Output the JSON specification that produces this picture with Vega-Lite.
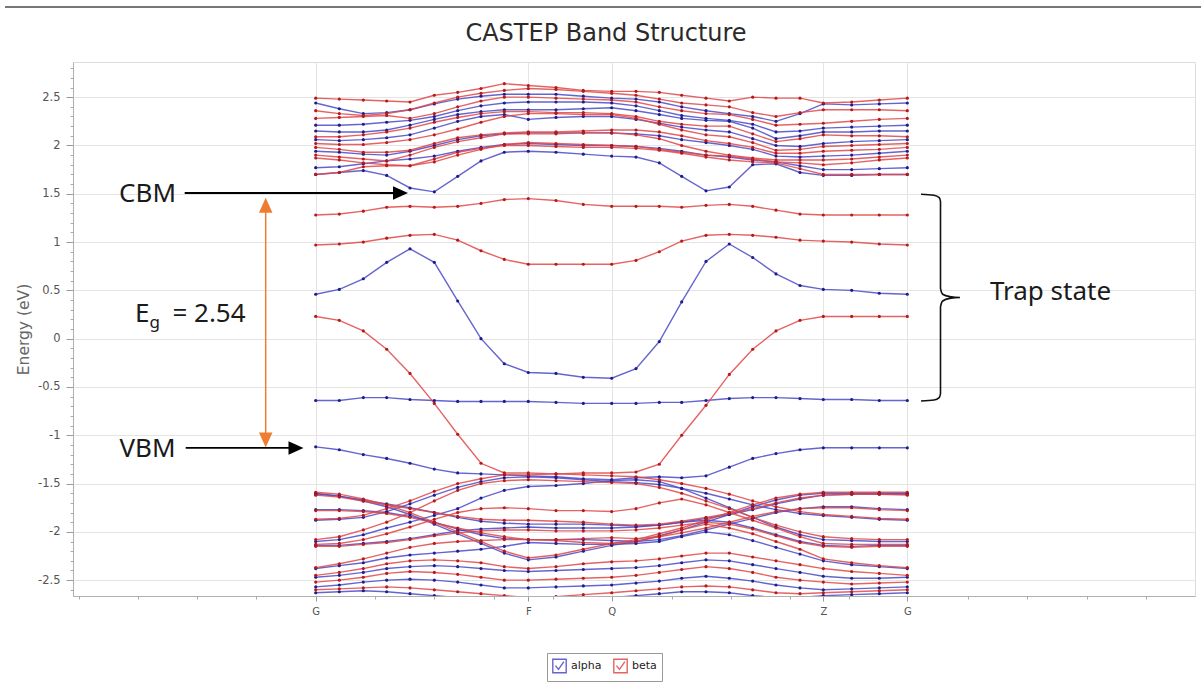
{
  "$schema": "https://vega.github.io/schema/vega-lite/v6.json",
  "width": 1122,
  "height": 534,
  "autosize": {"type": "none"},
  "padding": {"left": 73, "top": 62, "right": 6, "bottom": 88},
  "background": "white",
  "title": {"text": "CASTEP Band Structure", "font": "DejaVu Sans", "fontSize": 24, "fontWeight": "normal", "color": "#2a2a2a", "anchor": "middle", "offset": -40, "dx": -28},
  "config": {"view": {"stroke": "#dcdcdc"}},
  "datasets": {
    "kpts": [
      {"k": 1, "x": 0}, {"k": 2, "x": 23.6}, {"k": 3, "x": 47.6}, {"k": 4, "x": 71}, {"k": 5, "x": 94.3},
      {"k": 6, "x": 118.6}, {"k": 7, "x": 142}, {"k": 8, "x": 165.3}, {"k": 9, "x": 188.6}, {"k": 10, "x": 212.6},
      {"k": 11, "x": 240.3}, {"k": 12, "x": 267.6}, {"k": 13, "x": 296}, {"k": 14, "x": 320.3}, {"k": 15, "x": 343.6},
      {"k": 16, "x": 366}, {"k": 17, "x": 390.3}, {"k": 18, "x": 413.6}, {"k": 19, "x": 437}, {"k": 20, "x": 460.3},
      {"k": 21, "x": 484.3}, {"k": 22, "x": 507.6}, {"k": 23, "x": 536}, {"k": 24, "x": 563.6}, {"k": 25, "x": 591.6}
    ],
    "bands": [
      {"spin": "alpha", "band": "U2", "e": [2.44,2.38,2.33,2.34,2.37,2.43,2.48,2.51,2.53,2.53,2.53,2.51,2.49,2.48,2.45,2.40,2.36,2.33,2.30,2.25,2.33,2.43,2.42,2.43,2.44]},
      {"spin": "alpha", "band": "U5", "e": [2.21,2.21,2.22,2.24,2.26,2.30,2.36,2.41,2.44,2.45,2.45,2.45,2.44,2.41,2.36,2.31,2.28,2.26,2.22,2.14,2.15,2.18,2.19,2.20,2.21]},
      {"spin": "alpha", "band": "U6", "e": [2.15,2.14,2.14,2.16,2.21,2.27,2.32,2.35,2.37,2.37,2.37,2.38,2.39,2.36,2.32,2.28,2.26,2.25,2.18,2.07,2.10,2.14,2.14,2.15,2.15]},
      {"spin": "alpha", "band": "U8", "e": [2.06,2.05,2.06,2.08,2.11,2.18,2.25,2.30,2.32,2.27,2.29,2.30,2.30,2.27,2.23,2.19,2.16,2.14,2.07,2.00,1.99,2.02,2.04,2.05,2.06]},
      {"spin": "alpha", "band": "U11", "e": [1.94,1.93,1.91,1.90,1.94,2.00,2.06,2.10,2.12,2.13,2.13,2.13,2.13,2.12,2.10,2.06,2.03,2.00,1.96,1.89,1.88,1.89,1.90,1.92,1.94]},
      {"spin": "alpha", "band": "U14", "e": [1.77,1.78,1.81,1.84,1.86,1.89,1.94,1.98,2.01,2.02,2.01,2.00,2.00,1.99,1.97,1.94,1.90,1.88,1.85,1.83,1.79,1.75,1.75,1.76,1.77]},
      {"spin": "alpha", "band": "CBM", "e": [1.70,1.72,1.74,1.69,1.56,1.52,1.68,1.84,1.93,1.94,1.93,1.91,1.89,1.88,1.82,1.68,1.53,1.57,1.80,1.81,1.72,1.69,1.69,1.70,1.70]},
      {"spin": "alpha", "band": "T1", "e": [0.46,0.51,0.62,0.79,0.93,0.79,0.39,0.00,-0.26,-0.35,-0.36,-0.40,-0.41,-0.31,-0.03,0.38,0.80,0.98,0.84,0.67,0.55,0.51,0.50,0.47,0.46]},
      {"spin": "alpha", "band": "T2", "e": [-0.64,-0.64,-0.61,-0.61,-0.63,-0.64,-0.65,-0.65,-0.65,-0.65,-0.66,-0.67,-0.67,-0.67,-0.66,-0.66,-0.64,-0.62,-0.61,-0.61,-0.62,-0.63,-0.63,-0.64,-0.64]},
      {"spin": "alpha", "band": "VBM", "e": [-1.12,-1.15,-1.20,-1.24,-1.29,-1.35,-1.39,-1.40,-1.41,-1.42,-1.43,-1.45,-1.46,-1.44,-1.43,-1.44,-1.42,-1.33,-1.24,-1.19,-1.15,-1.13,-1.13,-1.13,-1.13]},
      {"spin": "alpha", "band": "Lb1", "e": [-1.60,-1.63,-1.68,-1.74,-1.82,-1.92,-2.02,-2.12,-2.22,-2.29,-2.26,-2.20,-2.14,-2.10,-2.04,-1.98,-1.90,-1.82,-1.74,-1.67,-1.62,-1.60,-1.60,-1.60,-1.60]},
      {"spin": "alpha", "band": "Lb10", "e": [-1.61,-1.63,-1.67,-1.71,-1.75,-1.80,-1.85,-1.89,-1.91,-1.92,-1.92,-1.92,-1.93,-1.94,-1.93,-1.90,-1.86,-1.82,-1.77,-1.71,-1.66,-1.62,-1.61,-1.61,-1.61]},
      {"spin": "alpha", "band": "Lb2", "e": [-1.77,-1.77,-1.78,-1.80,-1.84,-1.90,-1.97,-2.03,-2.07,-2.08,-2.08,-2.08,-2.09,-2.10,-2.08,-2.04,-1.98,-1.92,-1.86,-1.80,-1.76,-1.74,-1.74,-1.76,-1.77]},
      {"spin": "alpha", "band": "Lb3", "e": [-1.88,-1.87,-1.85,-1.79,-1.71,-1.62,-1.54,-1.48,-1.44,-1.43,-1.44,-1.46,-1.48,-1.49,-1.51,-1.55,-1.60,-1.66,-1.72,-1.77,-1.81,-1.83,-1.85,-1.87,-1.88]},
      {"spin": "alpha", "band": "Lb4", "e": [-2.10,-2.08,-2.03,-1.96,-1.90,-1.83,-1.76,-1.65,-1.57,-1.53,-1.52,-1.50,-1.47,-1.46,-1.48,-1.55,-1.65,-1.75,-1.85,-1.95,-2.03,-2.08,-2.09,-2.10,-2.10]},
      {"spin": "alpha", "band": "Lb5", "e": [-2.14,-2.14,-2.12,-2.10,-2.07,-2.03,-1.99,-1.97,-1.96,-1.95,-1.96,-1.96,-1.96,-1.95,-1.93,-1.90,-1.88,-1.90,-1.96,-2.03,-2.10,-2.14,-2.15,-2.14,-2.14]},
      {"spin": "alpha", "band": "Lb6", "e": [-2.38,-2.35,-2.32,-2.27,-2.24,-2.22,-2.20,-2.18,-2.15,-2.11,-2.12,-2.13,-2.13,-2.12,-2.10,-2.05,-2.00,-2.03,-2.09,-2.16,-2.23,-2.30,-2.34,-2.36,-2.38]},
      {"spin": "alpha", "band": "Lb7", "e": [-2.47,-2.45,-2.42,-2.38,-2.36,-2.35,-2.36,-2.38,-2.40,-2.41,-2.40,-2.39,-2.38,-2.37,-2.35,-2.32,-2.29,-2.30,-2.34,-2.38,-2.42,-2.46,-2.48,-2.48,-2.47]},
      {"spin": "alpha", "band": "Lb8", "e": [-2.57,-2.55,-2.52,-2.50,-2.49,-2.50,-2.52,-2.55,-2.58,-2.58,-2.57,-2.56,-2.55,-2.53,-2.51,-2.48,-2.46,-2.48,-2.51,-2.55,-2.58,-2.60,-2.59,-2.58,-2.57]},
      {"spin": "alpha", "band": "Lb9", "e": [-2.63,-2.62,-2.61,-2.62,-2.64,-2.66,-2.68,-2.70,-2.72,-2.72,-2.71,-2.70,-2.68,-2.66,-2.64,-2.62,-2.62,-2.63,-2.66,-2.68,-2.68,-2.66,-2.65,-2.64,-2.63]},
      {"spin": "beta", "band": "U1", "e": [2.49,2.48,2.47,2.46,2.45,2.52,2.55,2.59,2.64,2.62,2.60,2.57,2.56,2.56,2.55,2.52,2.49,2.46,2.50,2.49,2.49,2.44,2.45,2.47,2.49]},
      {"spin": "beta", "band": "U3", "e": [2.36,2.33,2.31,2.33,2.37,2.44,2.50,2.54,2.57,2.59,2.58,2.56,2.54,2.52,2.48,2.44,2.42,2.40,2.34,2.30,2.34,2.37,2.37,2.37,2.36]},
      {"spin": "beta", "band": "U4", "e": [2.28,2.29,2.30,2.31,2.28,2.33,2.40,2.46,2.50,2.50,2.49,2.48,2.47,2.45,2.40,2.36,2.33,2.32,2.27,2.21,2.22,2.23,2.25,2.27,2.28]},
      {"spin": "beta", "band": "U7", "e": [2.09,2.09,2.11,2.14,2.18,2.24,2.29,2.33,2.35,2.35,2.34,2.34,2.33,2.30,2.25,2.22,2.20,2.20,2.12,2.04,2.07,2.11,2.10,2.10,2.09]},
      {"spin": "beta", "band": "U9", "e": [2.02,2.01,2.01,2.03,2.06,2.11,2.17,2.24,2.30,2.33,2.33,2.32,2.32,2.28,2.22,2.16,2.11,2.09,2.03,1.95,1.96,1.99,2.00,2.01,2.02]},
      {"spin": "beta", "band": "U10", "e": [1.98,1.96,1.93,1.93,1.95,2.02,2.08,2.11,2.13,2.14,2.14,2.15,2.16,2.16,2.14,2.10,2.05,2.02,1.98,1.92,1.92,1.94,1.95,1.96,1.98]},
      {"spin": "beta", "band": "U12", "e": [1.90,1.88,1.86,1.84,1.90,1.98,2.04,2.08,2.12,2.12,2.12,2.13,2.13,2.11,2.07,2.00,1.94,1.90,1.87,1.85,1.85,1.85,1.86,1.88,1.90]},
      {"spin": "beta", "band": "U13", "e": [1.87,1.85,1.82,1.80,1.79,1.83,1.90,1.96,2.01,2.03,2.02,2.01,2.00,1.99,1.96,1.93,1.90,1.89,1.86,1.83,1.82,1.80,1.82,1.85,1.87]},
      {"spin": "beta", "band": "U15", "e": [1.70,1.72,1.78,1.79,1.79,1.86,1.93,1.97,2.00,2.00,1.99,1.98,1.98,1.97,1.95,1.92,1.88,1.85,1.83,1.82,1.76,1.70,1.70,1.70,1.70]},
      {"spin": "beta", "band": "RA", "e": [1.28,1.29,1.32,1.36,1.37,1.36,1.37,1.40,1.44,1.45,1.43,1.39,1.37,1.37,1.37,1.36,1.38,1.39,1.37,1.33,1.29,1.28,1.28,1.28,1.28]},
      {"spin": "beta", "band": "RB", "e": [0.97,0.98,1.00,1.04,1.07,1.08,1.02,0.91,0.82,0.77,0.77,0.77,0.77,0.81,0.90,1.01,1.07,1.08,1.07,1.05,1.02,1.01,1.00,0.98,0.97]},
      {"spin": "beta", "band": "RC", "e": [0.23,0.19,0.08,-0.11,-0.36,-0.67,-0.99,-1.29,-1.39,-1.39,-1.40,-1.39,-1.39,-1.38,-1.30,-1.00,-0.69,-0.37,-0.11,0.08,0.19,0.23,0.23,0.23,0.23]},
      {"spin": "beta", "band": "Lr1", "e": [-1.59,-1.61,-1.66,-1.72,-1.80,-1.90,-2.00,-2.10,-2.20,-2.27,-2.24,-2.18,-2.12,-2.08,-2.02,-1.96,-1.88,-1.80,-1.72,-1.65,-1.61,-1.59,-1.59,-1.59,-1.59]},
      {"spin": "beta", "band": "Lr2", "e": [-1.62,-1.64,-1.68,-1.72,-1.76,-1.80,-1.84,-1.87,-1.88,-1.88,-1.89,-1.90,-1.92,-1.93,-1.92,-1.89,-1.85,-1.81,-1.76,-1.70,-1.65,-1.62,-1.61,-1.61,-1.62]},
      {"spin": "beta", "band": "Lr3", "e": [-1.78,-1.78,-1.79,-1.81,-1.85,-1.91,-1.96,-2.01,-2.05,-2.08,-2.08,-2.07,-2.06,-2.07,-2.05,-2.01,-1.96,-1.90,-1.84,-1.79,-1.76,-1.75,-1.75,-1.77,-1.78]},
      {"spin": "beta", "band": "Lr4", "e": [-1.87,-1.86,-1.83,-1.76,-1.68,-1.58,-1.50,-1.45,-1.41,-1.41,-1.40,-1.41,-1.42,-1.43,-1.46,-1.50,-1.55,-1.61,-1.68,-1.74,-1.79,-1.82,-1.84,-1.86,-1.87]},
      {"spin": "beta", "band": "Lr5", "e": [-2.08,-2.05,-1.98,-1.90,-1.80,-1.68,-1.57,-1.50,-1.47,-1.46,-1.47,-1.48,-1.49,-1.50,-1.54,-1.60,-1.68,-1.76,-1.85,-1.93,-2.00,-2.05,-2.07,-2.08,-2.08]},
      {"spin": "beta", "band": "Lr6", "e": [-2.13,-2.12,-2.08,-2.02,-1.95,-1.87,-1.80,-1.76,-1.75,-1.76,-1.78,-1.78,-1.79,-1.76,-1.70,-1.66,-1.72,-1.80,-1.88,-1.96,-2.05,-2.12,-2.13,-2.13,-2.13]},
      {"spin": "beta", "band": "Lr11", "e": [-2.15,-2.15,-2.13,-2.11,-2.08,-2.04,-2.01,-1.99,-1.98,-1.98,-1.99,-1.99,-1.99,-1.98,-1.96,-1.93,-1.90,-1.92,-1.97,-2.04,-2.11,-2.15,-2.16,-2.15,-2.15]},
      {"spin": "beta", "band": "Lr7", "e": [-2.37,-2.33,-2.28,-2.22,-2.16,-2.12,-2.10,-2.09,-2.08,-2.08,-2.09,-2.11,-2.12,-2.10,-2.05,-1.98,-1.92,-1.96,-2.02,-2.10,-2.18,-2.28,-2.32,-2.35,-2.37]},
      {"spin": "beta", "band": "Lr8", "e": [-2.45,-2.42,-2.38,-2.33,-2.30,-2.29,-2.30,-2.32,-2.36,-2.38,-2.36,-2.33,-2.31,-2.30,-2.28,-2.25,-2.22,-2.22,-2.26,-2.30,-2.34,-2.38,-2.41,-2.43,-2.45]},
      {"spin": "beta", "band": "Lr9", "e": [-2.52,-2.50,-2.47,-2.43,-2.41,-2.42,-2.44,-2.47,-2.50,-2.50,-2.49,-2.48,-2.47,-2.45,-2.42,-2.39,-2.36,-2.38,-2.42,-2.47,-2.50,-2.52,-2.54,-2.53,-2.52]},
      {"spin": "beta", "band": "Lr10", "e": [-2.60,-2.59,-2.58,-2.57,-2.58,-2.60,-2.62,-2.64,-2.66,-2.68,-2.67,-2.65,-2.63,-2.61,-2.59,-2.57,-2.56,-2.57,-2.60,-2.63,-2.64,-2.63,-2.62,-2.61,-2.60]}
    ],
    "bigText": [
      {"t": "CBM", "x": -168.2, "y": 1.50},
      {"t": "VBM", "x": -168.2, "y": -1.14},
      {"t": "E", "x": -173.4, "y": 0.26},
      {"t": "= 2.54", "x": -106.7, "y": 0.26},
      {"t": "Trap state", "x": 734.8, "y": 0.478}
    ],
    "subText": [{"t": "g", "x": -161, "y": 0.16}],
    "blackArrows": [
      {"x": -131, "x2": 78, "y": 1.508},
      {"x": -130, "x2": -25, "y": -1.131}
    ],
    "blackHeads": [
      {"x": 84.8, "y": 1.508},
      {"x": -19.7, "y": -1.131}
    ],
    "gap": [{"x": -50, "y": 1.38, "y2": -1.05}],
    "gapTop": [{"x": -50, "y": 1.382}],
    "gapBottom": [{"x": -50, "y": -1.049}],
    "brace": [
      {"i": 1, "x": 605.3, "y": 1.495},
      {"i": 2, "x": 618.3, "y": 1.485},
      {"i": 3, "x": 623.5, "y": 1.46},
      {"i": 4, "x": 624.8, "y": 1.42},
      {"i": 5, "x": 624.8, "y": 0.52},
      {"i": 6, "x": 627, "y": 0.46},
      {"i": 7, "x": 634, "y": 0.435},
      {"i": 8, "x": 644.3, "y": 0.426},
      {"i": 9, "x": 634, "y": 0.417},
      {"i": 10, "x": 627, "y": 0.39},
      {"i": 11, "x": 624.8, "y": 0.33},
      {"i": 12, "x": 624.8, "y": -0.57},
      {"i": 13, "x": 623.5, "y": -0.61},
      {"i": 14, "x": 618.3, "y": -0.635},
      {"i": 15, "x": 605.3, "y": -0.645}
    ],
    "topLine": [{"x": -310.7, "x2": 885.3, "y": 3.434}]
  },
  "layer": [
    {
      "data": {"name": "bands"},
      "transform": [
        {"flatten": ["e"]},
        {"window": [{"op": "row_number", "as": "k"}], "groupby": ["band"]},
        {"lookup": "k", "from": {"data": {"name": "kpts"}, "key": "k", "fields": ["x"]}}
      ],
      "mark": {"type": "line", "strokeWidth": 1.4, "opacity": 0.85, "clip": true},
      "encoding": {
        "x": {"field": "x", "type": "quantitative", "scale": {"domain": [-242.7, 879.3], "nice": false, "zero": false},
          "axis": {"values": [0, 212.6, 296, 507.6, 591.6], "labelExpr": "datum.value == 212.6 ? 'F' : datum.value == 296 ? 'Q' : datum.value == 507.6 ? 'Z' : 'G'", "title": null, "grid": true, "gridColor": "#e4e4e4", "tickSize": 5, "tickColor": "#999999", "domainColor": "#b0b0b0", "labelFont": "DejaVu Sans", "labelFontSize": 10, "labelColor": "#555555", "labelPadding": 5, "orient": "bottom"}},
        "y": {"field": "e", "type": "quantitative", "scale": {"domain": [-2.664, 2.864], "nice": false, "zero": false},
          "axis": {"values": [-2.5, -2, -1.5, -1, -0.5, 0, 0.5, 1, 1.5, 2, 2.5], "labelExpr": "'' + datum.value", "title": "Energy (eV)", "titleFont": "DejaVu Sans", "titleFontSize": 15.5, "titleFontWeight": "normal", "titleColor": "#666666", "titlePadding": 6, "grid": true, "gridColor": "#e4e4e4", "tickSize": 7, "tickColor": "#999999", "domainColor": "#b0b0b0", "labelFont": "DejaVu Sans", "labelFontSize": 11.5, "labelColor": "#555555", "labelPadding": 6, "orient": "left"}},
        "color": {"field": "spin", "type": "nominal", "scale": {"domain": ["alpha", "beta"], "range": ["#4a4ac8", "#e04848"]},
          "legend": {"title": null, "orient": "none", "legendX": 474, "legendY": 591, "direction": "horizontal", "symbolType": "M-1,-1L1,-1L1,1L-1,1Z M-0.6,-0.05L-0.15,0.5L0.65,-0.65", "symbolSize": 180, "symbolStrokeWidth": 1.4, "labelFont": "DejaVu Sans", "labelFontSize": 11, "labelColor": "#222222", "strokeColor": "#999999", "padding": 5, "columnPadding": 8}},
        "detail": {"field": "band", "type": "nominal"}
      }
    },
    {
      "data": {"name": "bands"},
      "transform": [
        {"flatten": ["e"]},
        {"window": [{"op": "row_number", "as": "k"}], "groupby": ["band"]},
        {"lookup": "k", "from": {"data": {"name": "kpts"}, "key": "k", "fields": ["x"]}}
      ],
      "mark": {"type": "point", "filled": true, "size": 10, "opacity": 1, "clip": true},
      "encoding": {
        "x": {"field": "x", "type": "quantitative", "axis": {"values": [-237.2, -177.9, -118.6, -59.3, 59.3, 118.6, 177.9, 237.2, 355.8, 415.1, 474.4, 533.7, 652.3, 711.6, 770.9, 830.2], "labels": false, "grid": false, "domain": false, "tickSize": 3, "tickColor": "#aaaaaa", "title": null, "orient": "bottom"}},
        "y": {"field": "e", "type": "quantitative", "axis": {"values": [-2.6,-2.4,-2.3,-2.2,-2.1,-1.9,-1.8,-1.7,-1.6,-1.4,-1.3,-1.2,-1.1,-0.9,-0.8,-0.7,-0.6,-0.4,-0.3,-0.2,-0.1,0.1,0.2,0.3,0.4,0.6,0.7,0.8,0.9,1.1,1.2,1.3,1.4,1.6,1.7,1.8,1.9,2.1,2.2,2.3,2.4,2.6,2.7,2.8], "labels": false, "grid": false, "domain": false, "tickSize": 3, "tickColor": "#aaaaaa", "title": null, "orient": "left"}},
        "color": {"field": "spin", "type": "nominal", "scale": {"domain": ["alpha", "beta"], "range": ["#1c1c8c", "#b81818"]}, "legend": null},
        "detail": {"field": "band", "type": "nominal"}
      }
    },
    {
      "data": {"name": "topLine"},
      "mark": {"type": "rule", "color": "#777777", "strokeWidth": 2, "clip": false},
      "encoding": {
        "x": {"field": "x", "type": "quantitative", "axis": null},
        "x2": {"field": "x2"},
        "y": {"field": "y", "type": "quantitative", "axis": null}
      }
    },
    {
      "data": {"name": "blackArrows"},
      "mark": {"type": "rule", "color": "#000000", "strokeWidth": 1.8},
      "encoding": {
        "x": {"field": "x", "type": "quantitative", "axis": null},
        "x2": {"field": "x2"},
        "y": {"field": "y", "type": "quantitative", "axis": null}
      }
    },
    {
      "data": {"name": "blackHeads"},
      "mark": {"type": "point", "shape": "M-1,-0.9L1,0L-1,0.9Z", "filled": true, "color": "#000000", "size": 225, "opacity": 1},
      "encoding": {
        "x": {"field": "x", "type": "quantitative", "axis": null},
        "y": {"field": "y", "type": "quantitative", "axis": null}
      }
    },
    {
      "data": {"name": "gap"},
      "mark": {"type": "rule", "color": "#ED7D31", "strokeWidth": 1.5},
      "encoding": {
        "x": {"field": "x", "type": "quantitative", "axis": null},
        "y": {"field": "y", "type": "quantitative", "axis": null},
        "y2": {"field": "y2"}
      }
    },
    {
      "data": {"name": "gapTop"},
      "mark": {"type": "point", "shape": "M-0.9,1L0,-1L0.9,1Z", "filled": true, "color": "#ED7D31", "size": 225, "opacity": 1},
      "encoding": {
        "x": {"field": "x", "type": "quantitative", "axis": null},
        "y": {"field": "y", "type": "quantitative", "axis": null}
      }
    },
    {
      "data": {"name": "gapBottom"},
      "mark": {"type": "point", "shape": "M-0.9,-1L0,1L0.9,-1Z", "filled": true, "color": "#ED7D31", "size": 225, "opacity": 1},
      "encoding": {
        "x": {"field": "x", "type": "quantitative", "axis": null},
        "y": {"field": "y", "type": "quantitative", "axis": null}
      }
    },
    {
      "data": {"name": "brace"},
      "mark": {"type": "line", "color": "#111111", "strokeWidth": 1.6, "interpolate": "monotone"},
      "encoding": {
        "x": {"field": "x", "type": "quantitative", "axis": null},
        "y": {"field": "y", "type": "quantitative", "axis": null},
        "order": {"field": "i", "type": "quantitative"}
      }
    },
    {
      "data": {"name": "bigText"},
      "mark": {"type": "text", "font": "Noto Sans", "fontSize": 26, "color": "#1a1a1a", "align": "center", "baseline": "middle"},
      "encoding": {
        "x": {"field": "x", "type": "quantitative", "axis": null},
        "y": {"field": "y", "type": "quantitative", "axis": null},
        "text": {"field": "t"}
      }
    },
    {
      "data": {"name": "subText"},
      "mark": {"type": "text", "font": "Noto Sans", "fontSize": 17, "color": "#1a1a1a", "align": "center", "baseline": "middle"},
      "encoding": {
        "x": {"field": "x", "type": "quantitative", "axis": null},
        "y": {"field": "y", "type": "quantitative", "axis": null},
        "text": {"field": "t"}
      }
    }
  ],
  "resolve": {"scale": {"color": "independent"}, "axis": {"x": "independent", "y": "independent"}}
}
